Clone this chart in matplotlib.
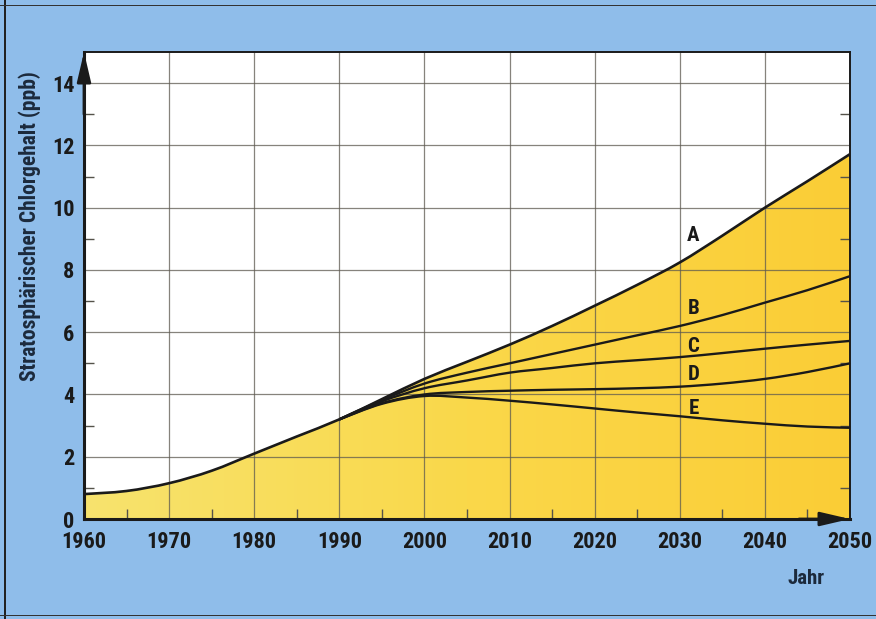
import numpy as np
import matplotlib
matplotlib.use("Agg")
import matplotlib.pyplot as plt
from matplotlib.colors import LinearSegmentedColormap
from matplotlib.patches import Rectangle, PathPatch
from matplotlib.path import Path
from matplotlib import font_manager

# ---- data (ppb) ----
years_a = [1960, 1965, 1970, 1975, 1980, 1985, 1990, 1995, 2000, 2005, 2010,
           2015, 2020, 2025, 2030, 2035, 2040, 2045, 2050]
chlor_a = [0.8, 0.9, 1.15, 1.55, 2.1, 2.65, 3.2, 3.85, 4.5, 5.05, 5.6,
           6.2, 6.85, 7.52, 8.24, 9.1, 10.0, 10.85, 11.72]

years_s = [1990, 1995, 2000, 2005, 2010, 2015, 2020, 2025, 2030, 2035, 2040, 2045, 2050]
chlor_b = [3.2, 3.82, 4.35, 4.7, 5.0, 5.3, 5.6, 5.9, 6.2, 6.55, 6.95, 7.35, 7.8]
chlor_c = [3.2, 3.78, 4.2, 4.45, 4.7, 4.85, 5.0, 5.1, 5.2, 5.33, 5.47, 5.6, 5.72]
chlor_d = [3.2, 3.72, 4.0, 4.08, 4.12, 4.15, 4.17, 4.2, 4.25, 4.35, 4.5, 4.72, 5.0]
chlor_e = [3.2, 3.7, 3.95, 3.9, 3.8, 3.68, 3.55, 3.42, 3.3, 3.17, 3.06, 2.97, 2.93]

scenario_names = ["A", "B", "C", "D", "E"]
label_pos = [(2031.6, 9.1), (2031.6, 6.75), (2031.6, 5.55), (2031.6, 4.65), (2031.6, 3.55)]

x_ticks = [1960, 1970, 1980, 1990, 2000, 2010, 2020, 2030, 2040, 2050]
y_ticks = [0, 2, 4, 6, 8, 10, 12, 14]

# ---- fonts ----
avail = {f.name for f in font_manager.fontManager.ttflist}
cond = None
for name in ["Roboto Condensed", "Liberation Sans Narrow", "Open Sans Condensed", "DejaVu Sans Condensed"]:
    if name in avail:
        cond = name
        break
fam = [cond, "DejaVu Sans"] if cond else ["DejaVu Sans"]
plt.rcParams["font.family"] = fam
plt.rcParams["font.weight"] = "bold"

BLUE = "#8fbdea"
INK = "#1a1a1a"


def smooth_path(xs, ys):
    """Catmull-Rom curve through the points, as cubic Bezier segments."""
    pts = np.column_stack([np.asarray(xs, float), np.asarray(ys, float)])
    n = len(pts)
    verts = [pts[0]]
    codes = [Path.MOVETO]
    for i in range(n - 1):
        p0 = pts[i - 1] if i > 0 else pts[i]
        p1 = pts[i]
        p2 = pts[i + 1]
        p3 = pts[i + 2] if i + 2 < n else pts[i + 1]
        verts += [p1 + (p2 - p0) / 6.0, p2 - (p3 - p1) / 6.0, p2]
        codes += [Path.CURVE4] * 3
    return np.array(verts), codes


fig = plt.figure(figsize=(8.76, 6.19), dpi=100, facecolor=BLUE)
ax = fig.add_axes([84 / 876, 1 - 519 / 619, 766 / 876, 467 / 619])
ax.set_facecolor("white")
ax.set_xlim(1960, 2050)
ax.set_ylim(0, 15)

# yellow area under curve A with a gentle left-to-right gradient
va, ca = smooth_path(years_a, chlor_a)
area_verts = np.vstack([va, [[years_a[-1], 0], [years_a[0], 0], va[0]]])
area_codes = list(ca) + [Path.LINETO, Path.LINETO, Path.CLOSEPOLY]
area = PathPatch(Path(area_verts, area_codes), facecolor="none", edgecolor="none")
ax.add_patch(area)
cmap = LinearSegmentedColormap.from_list("yel", ["#f7e36e", "#fad84a", "#fbcd36"])
grad = np.linspace(0, 1, 256).reshape(1, -1)
img = ax.imshow(grad, extent=[1960, 2050, 0, 15], aspect="auto", cmap=cmap,
                origin="lower", zorder=1)
img.set_clip_path(area)

# grid
for xv in x_ticks[1:-1]:
    ax.axvline(xv, color="#5e5a50", lw=0.9, alpha=0.75, zorder=2)
for yv in y_ticks[1:]:
    ax.axhline(yv, color="#5e5a50", lw=0.9, alpha=0.75, zorder=2)

# curves
ax.add_patch(PathPatch(Path(va, ca), facecolor="none", edgecolor=INK, lw=1.9, zorder=4))
for vals in [chlor_b, chlor_c, chlor_d, chlor_e]:
    v, c = smooth_path(years_s, vals)
    ax.add_patch(PathPatch(Path(v, c), facecolor="none", edgecolor=INK, lw=1.7, zorder=4))

for name, (lx, ly) in zip(scenario_names, label_pos):
    ax.text(lx, ly, name, fontsize=15, color=INK, ha="center", va="center", zorder=5)

# frame: thin top/right, heavy left/bottom axes with arrows
for side in ["top", "right"]:
    ax.spines[side].set_linewidth(1.4)
    ax.spines[side].set_color(INK)
for side in ["left", "bottom"]:
    ax.spines[side].set_linewidth(2.2)
    ax.spines[side].set_color(INK)
arrow_style = "-|>,head_width=0.42,head_length=1.8"
ax.annotate("", xy=(1960, 15.0), xytext=(1960, 13.0),
            arrowprops=dict(arrowstyle=arrow_style, color=INK, lw=2.0, mutation_scale=10,
                            shrinkA=0, shrinkB=0),
            annotation_clip=False, zorder=6)
ax.annotate("", xy=(2050, 0), xytext=(2044, 0),
            arrowprops=dict(arrowstyle=arrow_style, color=INK, lw=2.0, mutation_scale=10,
                            shrinkA=0, shrinkB=0),
            annotation_clip=False, zorder=6)

# ticks
ax.set_xticks(x_ticks)
ax.set_yticks(y_ticks)
ax.set_xticks([1965, 1975, 1985, 1995, 2005, 2015, 2025, 2035, 2045], minor=True)
ax.set_yticks([1, 3, 5, 7, 9, 11, 13], minor=True)
ax.tick_params(axis="both", which="major", length=0, labelsize=16, colors=INK)
ax.tick_params(axis="x", which="minor", direction="in", length=7, width=1.0, color="#55524a")
ax.tick_params(axis="y", which="minor", direction="in", length=7, width=1.0, color="#55524a",
               right=True)
ax.tick_params(axis="x", which="major", pad=9)
ax.tick_params(axis="y", which="major", pad=7)

fig.text(30 / 876, 1 - 226 / 619, "Stratosphärischer Chlorgehalt (ppb)", rotation=90,
         ha="center", va="center", fontsize=15.5, color="#1c2a3c")
fig.text(806 / 876, 1 - 578 / 619, "Jahr", ha="center", va="center", fontsize=15,
         color="#1c2a3c")

# outer dark border of the panel
fig.add_artist(Rectangle((4 / 876, 0), 1.5 / 876, 1, transform=fig.transFigure,
                         color="#222", lw=0))
fig.add_artist(Rectangle((0, 1 - 6 / 619), 1, 1.5 / 619, transform=fig.transFigure,
                         color="#333", lw=0))
fig.add_artist(Rectangle((0, 3 / 619), 1, 1.5 / 619, transform=fig.transFigure,
                         color="#333", lw=0))

fig.savefig("out.png", dpi=100, facecolor=BLUE)
